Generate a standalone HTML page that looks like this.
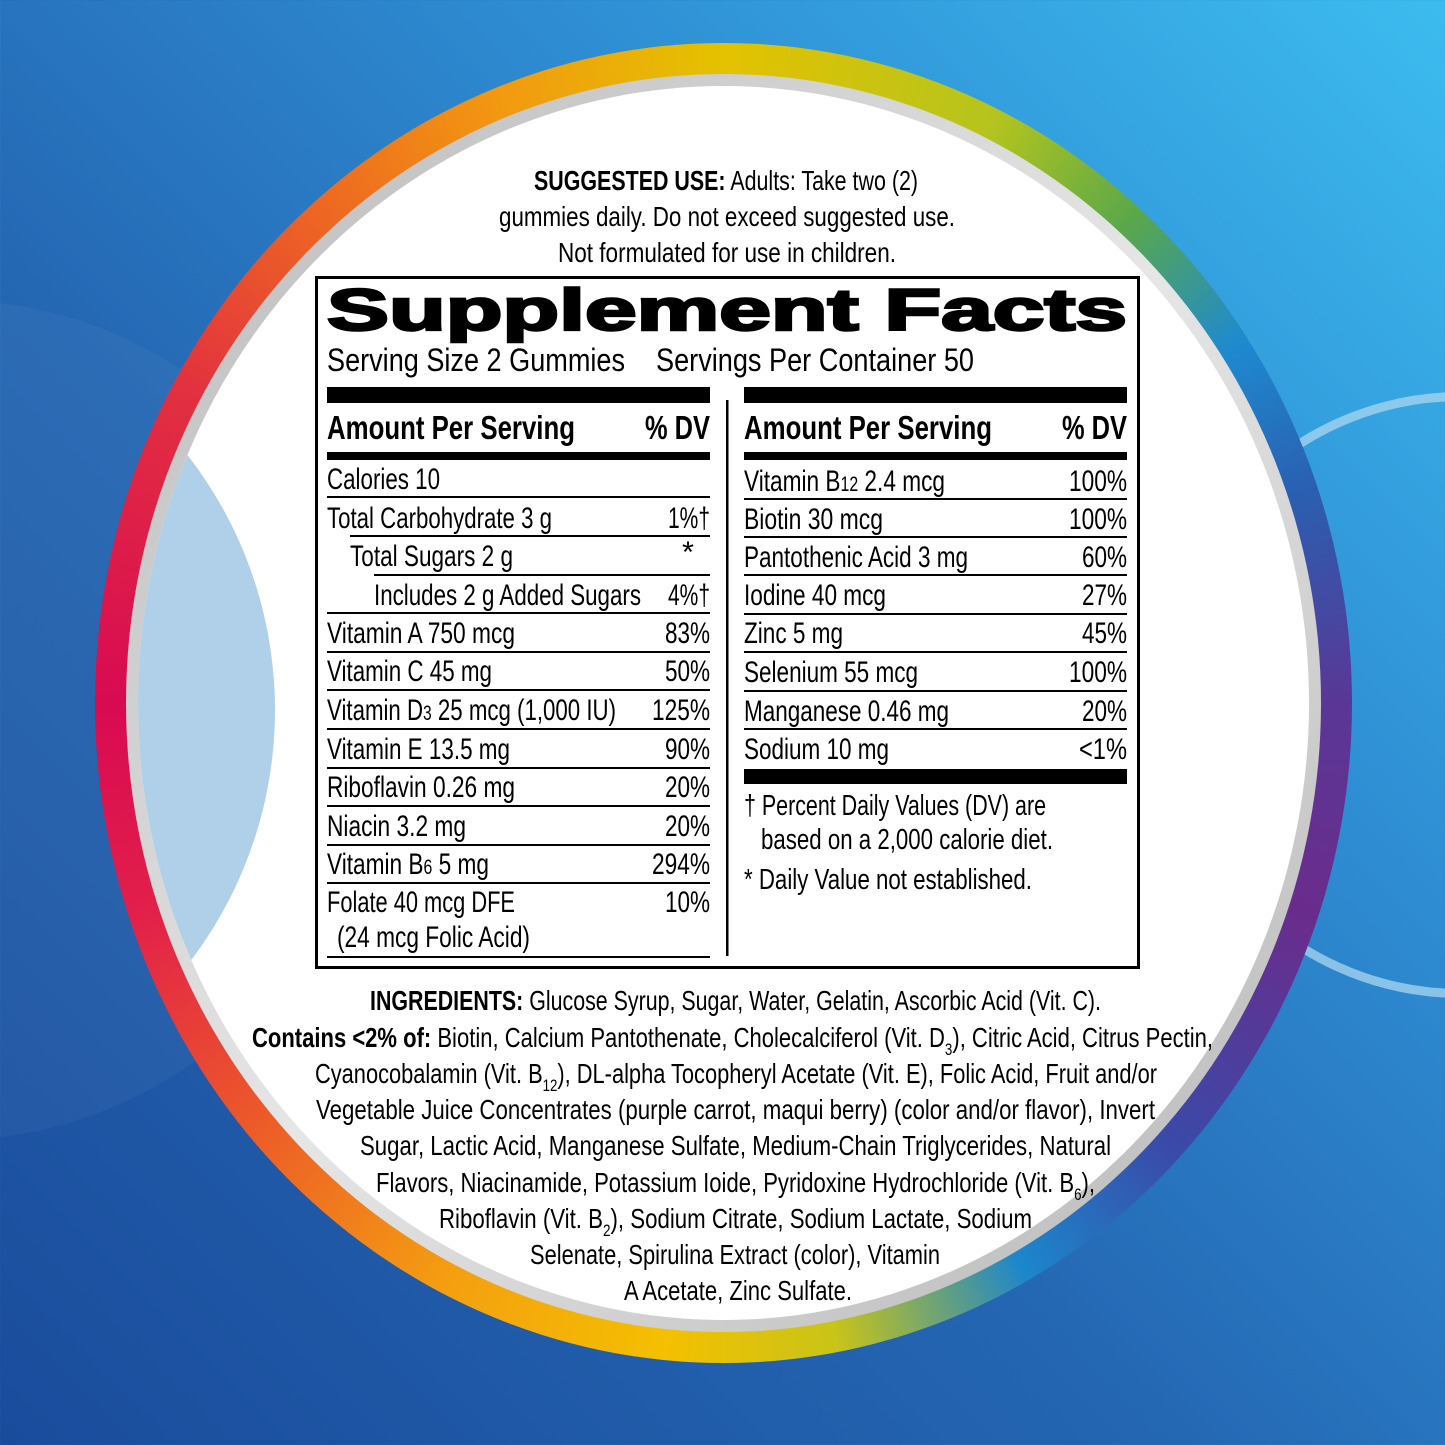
<!DOCTYPE html>
<html><head><meta charset="utf-8"><style>
html,body{margin:0;padding:0;}
body{width:1445px;height:1445px;position:relative;overflow:hidden;background:linear-gradient(45deg,#1a4c9c 0%,#2466b2 40%,#2f8fd4 70%,#3cbcef 100%);font-family:"Liberation Sans",sans-serif;}
.c{position:absolute;border-radius:50%;}
#ring{left:95px;top:43px;width:1257px;height:1320px;background:conic-gradient(from 0deg,#e4c200 0deg,#b4c41e 25deg,#5aa84a 40deg,#1e8ad0 55deg,#2a5fb0 70deg,#5a3796 90deg,#6a2c8c 110deg,#3a4aa8 135deg,#1c86cc 152deg,#c8c418 170deg,#f4c000 185deg,#f4a010 205deg,#ec5a28 228deg,#e2204a 250deg,#d80a52 270deg,#e23040 300deg,#ee6a20 322deg,#f29a10 340deg,#e4c200 360deg);}
#grey{left:126px;top:74px;width:1195px;height:1258px;background:linear-gradient(135deg,#b8b8b8,#e6e6e6 50%,#b4b4b4);}
#white{left:138px;top:86px;width:1171px;height:1234px;background:#fff;overflow:hidden;}
#lb{position:absolute;left:-693px;top:209px;width:830px;height:830px;border-radius:50%;background:#afd0e8;}
#lb2{left:-470px;top:300px;width:840px;height:840px;background:rgba(255,255,255,0.04);}
#rarc{left:1158px;top:392px;width:606px;height:606px;border:9px solid rgba(170,215,240,0.75);box-sizing:border-box;}
svg{position:absolute;left:0;top:0;}
</style></head><body>
<div class="c" id="lb2"></div>
<div class="c" id="rarc"></div>
<div class="c" id="ring"></div>
<div class="c" id="grey"></div>
<div class="c" id="white"><div id="lb"></div></div>
<svg width="1445" height="1445" viewBox="0 0 1445 1445" font-family="Liberation Sans, sans-serif" fill="#000">
<g font-size="28">
<text x="534" y="190" textLength="384" lengthAdjust="spacingAndGlyphs"><tspan font-weight="bold">SUGGESTED USE:</tspan> Adults: Take two (2)</text>
<text x="499" y="226" textLength="456" lengthAdjust="spacingAndGlyphs">gummies daily. Do not exceed suggested use.</text>
<text x="558" y="262" textLength="338" lengthAdjust="spacingAndGlyphs">Not formulated for use in children.</text>
</g>
<rect x="316.5" y="277.5" width="822" height="690" fill="none" stroke="#000" stroke-width="3"/>
<text x="327" y="330" font-size="58" font-weight="900" stroke="#000" stroke-width="2.5" textLength="800" lengthAdjust="spacingAndGlyphs">Supplement Facts</text>
<g font-size="32">
<text x="327" y="371" textLength="298" lengthAdjust="spacingAndGlyphs">Serving Size 2 Gummies</text>
<text x="656" y="371" textLength="318" lengthAdjust="spacingAndGlyphs">Servings Per Container 50</text>
</g>
<rect x="327" y="387" width="383" height="16"/><rect x="744" y="387" width="383" height="16"/>
<rect x="726" y="400" width="2.5" height="556"/>
<g font-size="33" font-weight="bold">
<text x="327" y="439" textLength="248" lengthAdjust="spacingAndGlyphs">Amount Per Serving</text>
<text x="645" y="439" textLength="65" lengthAdjust="spacingAndGlyphs">% DV</text>
<text x="744" y="439" textLength="248" lengthAdjust="spacingAndGlyphs">Amount Per Serving</text>
<text x="1062" y="439" textLength="65" lengthAdjust="spacingAndGlyphs">% DV</text>
</g>
<rect x="327" y="452" width="383" height="8"/><rect x="744" y="452" width="383" height="8"/>
<g fill="#000">
<rect x="327" y="496" width="383" height="2"/><rect x="350" y="535" width="360" height="2"/><rect x="374" y="574" width="336" height="2"/>
<rect x="327" y="612" width="383" height="2"/><rect x="327" y="651" width="383" height="2"/><rect x="327" y="689" width="383" height="2"/>
<rect x="327" y="728" width="383" height="2"/><rect x="327" y="767" width="383" height="2"/><rect x="327" y="805" width="383" height="2"/>
<rect x="327" y="844" width="383" height="2"/><rect x="327" y="882" width="383" height="2"/><rect x="327" y="956" width="383" height="2"/>
<rect x="744" y="498" width="383" height="2"/><rect x="744" y="536" width="383" height="2"/><rect x="744" y="574" width="383" height="2"/>
<rect x="744" y="613" width="383" height="2"/><rect x="744" y="651" width="383" height="2"/><rect x="744" y="690" width="383" height="2"/>
<rect x="744" y="728" width="383" height="2"/>
<rect x="744" y="769" width="383" height="15"/>
</g>
<g font-size="30">
<text x="327" y="489" textLength="113" lengthAdjust="spacingAndGlyphs">Calories 10</text>
<text x="327" y="528" textLength="225" lengthAdjust="spacingAndGlyphs">Total Carbohydrate 3 g</text>
<text x="668" y="528" textLength="42" lengthAdjust="spacingAndGlyphs">1%†</text>
<text x="350" y="566" textLength="163" lengthAdjust="spacingAndGlyphs">Total Sugars 2 g</text>
<text x="682" y="562" textLength="12" lengthAdjust="spacingAndGlyphs">*</text>
<text x="374" y="605" textLength="267" lengthAdjust="spacingAndGlyphs">Includes 2 g Added Sugars</text>
<text x="668" y="605" textLength="42" lengthAdjust="spacingAndGlyphs">4%†</text>
<text x="327" y="643" textLength="188" lengthAdjust="spacingAndGlyphs">Vitamin A 750 mcg</text>
<text x="665" y="643" textLength="45" lengthAdjust="spacingAndGlyphs">83%</text>
<text x="327" y="681" textLength="165" lengthAdjust="spacingAndGlyphs">Vitamin C 45 mg</text>
<text x="665" y="681" textLength="45" lengthAdjust="spacingAndGlyphs">50%</text>
<text x="327" y="720" textLength="289" lengthAdjust="spacingAndGlyphs">Vitamin D<tspan font-size="21">3</tspan> 25 mcg (1,000 IU)</text>
<text x="652" y="720" textLength="58" lengthAdjust="spacingAndGlyphs">125%</text>
<text x="327" y="759" textLength="183" lengthAdjust="spacingAndGlyphs">Vitamin E 13.5 mg</text>
<text x="665" y="759" textLength="45" lengthAdjust="spacingAndGlyphs">90%</text>
<text x="327" y="797" textLength="188" lengthAdjust="spacingAndGlyphs">Riboflavin 0.26 mg</text>
<text x="665" y="797" textLength="45" lengthAdjust="spacingAndGlyphs">20%</text>
<text x="327" y="836" textLength="139" lengthAdjust="spacingAndGlyphs">Niacin 3.2 mg</text>
<text x="665" y="836" textLength="45" lengthAdjust="spacingAndGlyphs">20%</text>
<text x="327" y="874" textLength="162" lengthAdjust="spacingAndGlyphs">Vitamin B<tspan font-size="21">6</tspan> 5 mg</text>
<text x="652" y="874" textLength="58" lengthAdjust="spacingAndGlyphs">294%</text>
<text x="327" y="912" textLength="188" lengthAdjust="spacingAndGlyphs">Folate 40 mcg DFE</text>
<text x="665" y="912" textLength="45" lengthAdjust="spacingAndGlyphs">10%</text>
<text x="337" y="947" textLength="193" lengthAdjust="spacingAndGlyphs">(24 mcg Folic Acid)</text>

<text x="744" y="491" textLength="201" lengthAdjust="spacingAndGlyphs">Vitamin B<tspan font-size="21">12</tspan> 2.4 mcg</text>
<text x="1069" y="491" textLength="58" lengthAdjust="spacingAndGlyphs">100%</text>
<text x="744" y="529" textLength="139" lengthAdjust="spacingAndGlyphs">Biotin 30 mcg</text>
<text x="1069" y="529" textLength="58" lengthAdjust="spacingAndGlyphs">100%</text>
<text x="744" y="567" textLength="224" lengthAdjust="spacingAndGlyphs">Pantothenic Acid 3 mg</text>
<text x="1082" y="567" textLength="45" lengthAdjust="spacingAndGlyphs">60%</text>
<text x="744" y="605" textLength="142" lengthAdjust="spacingAndGlyphs">Iodine 40 mcg</text>
<text x="1082" y="605" textLength="45" lengthAdjust="spacingAndGlyphs">27%</text>
<text x="744" y="643" textLength="99" lengthAdjust="spacingAndGlyphs">Zinc 5 mg</text>
<text x="1082" y="643" textLength="45" lengthAdjust="spacingAndGlyphs">45%</text>
<text x="744" y="682" textLength="174" lengthAdjust="spacingAndGlyphs">Selenium 55 mcg</text>
<text x="1069" y="682" textLength="58" lengthAdjust="spacingAndGlyphs">100%</text>
<text x="744" y="721" textLength="205" lengthAdjust="spacingAndGlyphs">Manganese 0.46 mg</text>
<text x="1082" y="721" textLength="45" lengthAdjust="spacingAndGlyphs">20%</text>
<text x="744" y="759" textLength="145" lengthAdjust="spacingAndGlyphs">Sodium 10 mg</text>
<text x="1079" y="759" textLength="48" lengthAdjust="spacingAndGlyphs">&lt;1%</text>
</g>
<g font-size="29">
<text x="744" y="815" textLength="302" lengthAdjust="spacingAndGlyphs">† Percent Daily Values (DV) are</text>
<text x="761" y="849" textLength="292" lengthAdjust="spacingAndGlyphs">based on a 2,000 calorie diet.</text>
<text x="744" y="889" textLength="288" lengthAdjust="spacingAndGlyphs">* Daily Value not established.</text>
</g>
<g font-size="28">
<text x="370" y="1010" textLength="731" lengthAdjust="spacingAndGlyphs"><tspan font-weight="bold">INGREDIENTS:</tspan> Glucose Syrup, Sugar, Water, Gelatin, Ascorbic Acid (Vit. C).</text>
<text x="252" y="1047" textLength="961" lengthAdjust="spacingAndGlyphs"><tspan font-weight="bold">Contains &lt;2% of:</tspan> Biotin, Calcium Pantothenate, Cholecalciferol (Vit. D<tspan font-size="17" dy="8">3</tspan><tspan dy="-8">), Citric Acid, Citrus Pectin,</tspan></text>
<text x="315" y="1083" textLength="842" lengthAdjust="spacingAndGlyphs">Cyanocobalamin (Vit. B<tspan font-size="17" dy="8">12</tspan><tspan dy="-8">), DL-alpha Tocopheryl Acetate (Vit. E), Folic Acid, Fruit and/or</tspan></text>
<text x="316" y="1119" textLength="839" lengthAdjust="spacingAndGlyphs">Vegetable Juice Concentrates (purple carrot, maqui berry) (color and/or flavor), Invert</text>
<text x="360" y="1155" textLength="751" lengthAdjust="spacingAndGlyphs">Sugar, Lactic Acid, Manganese Sulfate, Medium-Chain Triglycerides, Natural</text>
<text x="376" y="1192" textLength="719" lengthAdjust="spacingAndGlyphs">Flavors, Niacinamide, Potassium Ioide, Pyridoxine Hydrochloride (Vit.  B<tspan font-size="17" dy="8">6</tspan><tspan dy="-8">),</tspan></text>
<text x="439" y="1228" textLength="593" lengthAdjust="spacingAndGlyphs">Riboflavin (Vit.  B<tspan font-size="17" dy="8">2</tspan><tspan dy="-8">), Sodium Citrate, Sodium Lactate, Sodium</tspan></text>
<text x="530" y="1264" textLength="410" lengthAdjust="spacingAndGlyphs">Selenate, Spirulina Extract (color), Vitamin</text>
<text x="624" y="1300" textLength="228" lengthAdjust="spacingAndGlyphs">A Acetate, Zinc Sulfate.</text>
</g>
</svg>
</body></html>
